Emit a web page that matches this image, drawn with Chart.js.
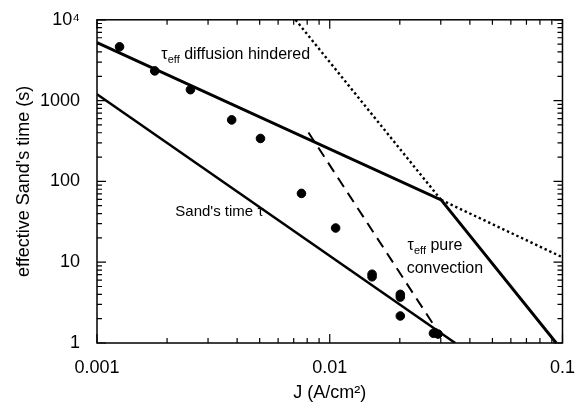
<!DOCTYPE html>
<html>
<head>
<meta charset="utf-8">
<script src="https://cdn.jsdelivr.net/npm/chart.js@4.4.1/dist/chart.umd.min.js"></script>
<style>
  html, body { margin: 0; padding: 0; background: #fff; }
  #wrap { width: 581px; height: 411px; }
</style>
</head>
<body>
<div id="wrap"><canvas id="sandChart"></canvas></div>
<script>
// measured effective Sand's times
const measJ = [0.00125, 0.00177, 0.00252, 0.00379, 0.00504, 0.00756, 0.0106, 0.0152, 0.0152, 0.0201, 0.0201, 0.0201, 0.0279, 0.0292];
const measT = [4630, 2330, 1365, 577, 340, 71, 26.5, 6.6, 7.1, 4.0, 3.7, 2.16, 1.32, 1.29];

// Sand's time tau
const sandJ = [0.001, 0.0346];
const sandT = [1200, 1];

// tau_eff: diffusion hindered, then pure convection
const effJ = [0.001, 0.0301, 0.094];
const effT = [5230, 59, 1];

// dotted continuations of both branches
const convExtJ = [0.00713, 0.0301];
const convExtT = [10000, 59];
const diffExtJ = [0.0301, 0.1];
const diffExtT = [59, 11.5];

// dashed guide line
const dashJ = [0.0081, 0.0296];
const dashT = [403, 1.3];

const xTickVals = [0.001, 0.01, 0.1];
const xTickLabels = ['0.001', '0.01', '0.1'];
const yTickVals = [1, 10, 100, 1000, 10000];
const yTickLabels = ['1', '10', '100', '1000', '10⁴'];

const FONT = '"Liberation Sans", Arial, Helvetica, sans-serif';

const toXY = (xs, ys) => xs.map((x, i) => ({ x, y: ys[i] }));

// decade majors plus 2..9 minors
const withMinors = (majors) => {
  const out = [];
  majors.forEach((m, i) => {
    out.push({ value: m, major: true });
    if (i < majors.length - 1) {
      for (let k = 2; k <= 9; k++) out.push({ value: m * k, major: false });
    }
  });
  return out;
};

const lineSet = (xs, ys, width, dash) => ({
  type: 'line',
  data: toXY(xs, ys),
  borderColor: '#000',
  borderWidth: width,
  borderDash: dash || [],
  pointRadius: 0,
  fill: false,
  tension: 0
});

const annotations = [
  { x: 0.00189, y: 3240, parts: [['τ', 16, 0], ['eff', 11, 4], [' diffusion hindered', 16, 0]] },
  { x: 0.00217, y: 37.8, parts: [["Sand's time τ", 15, 0]] },
  { x: 0.0216, y: 14.1, parts: [['τ', 16, 0], ['eff', 11, 4], [' pure', 16, 0]] },
  { x: 0.0214, y: 7.4, parts: [['convection', 16, 0]] }
];

// frame, inward ticks on all four sides, and the in-plot labels
const frameTicks = {
  id: 'frameTicks',
  afterDraw(chart) {
    const { ctx, chartArea: a, scales } = chart;
    ctx.save();
    ctx.setLineDash([]);
    ctx.strokeStyle = '#000';
    ctx.lineWidth = 1.5;
    ctx.strokeRect(a.left, a.top, a.right - a.left, a.bottom - a.top);
    ctx.lineWidth = 1.2;
    ctx.beginPath();
    withMinors(xTickVals).forEach(t => {
      const px = scales.x.getPixelForValue(t.value);
      const len = t.major ? 9 : 5;
      ctx.moveTo(px, a.bottom); ctx.lineTo(px, a.bottom - len);
      ctx.moveTo(px, a.top); ctx.lineTo(px, a.top + len);
    });
    withMinors(yTickVals).forEach(t => {
      const py = scales.y.getPixelForValue(t.value);
      const len = t.major ? 9 : 5;
      ctx.moveTo(a.left, py); ctx.lineTo(a.left + len, py);
      ctx.moveTo(a.right, py); ctx.lineTo(a.right - len, py);
    });
    ctx.stroke();

    ctx.fillStyle = '#000';
    ctx.textBaseline = 'alphabetic';
    annotations.forEach(an => {
      let px = scales.x.getPixelForValue(an.x);
      const py = scales.y.getPixelForValue(an.y);
      an.parts.forEach(([txt, size, dy]) => {
        ctx.font = size + 'px ' + FONT;
        ctx.fillText(txt, px, py + dy);
        px += ctx.measureText(txt).width;
      });
    });
    ctx.restore();
  }
};

new Chart(document.getElementById('sandChart'), {
  type: 'scatter',
  data: {
    datasets: [
      {
        type: 'scatter',
        data: toXY(measJ, measT),
        backgroundColor: '#000',
        borderColor: '#000',
        pointRadius: 4.3,
        pointHoverRadius: 4.3
      },
      lineSet(sandJ, sandT, 2.5),
      lineSet(effJ, effT, 3),
      lineSet(convExtJ, convExtT, 2.4, [2.4, 2.8]),
      lineSet(diffExtJ, diffExtT, 2.4, [2.4, 2.8]),
      lineSet(dashJ, dashT, 2, [11, 7])
    ]
  },
  options: {
    responsive: true,
    maintainAspectRatio: false,
    animation: false,
    events: [],
    layout: { padding: { left: 0, top: 16, right: 18, bottom: 0 } },
    plugins: { legend: { display: false }, tooltip: { enabled: false } },
    scales: {
      x: {
        type: 'logarithmic',
        min: 0.001,
        max: 0.1,
        afterBuildTicks: (s) => { s.ticks = withMinors(xTickVals); },
        afterFit: (s) => { s.height = 68; },
        grid: { display: false },
        border: { display: false },
        ticks: {
          autoSkip: false,
          maxRotation: 0,
          padding: 6,
          color: '#000',
          font: { family: FONT, size: 18 },
          callback: (v) => {
            const i = xTickVals.findIndex(t => Math.abs(t - v) / t < 1e-6);
            return i >= 0 ? xTickLabels[i] : '';
          }
        },
        title: {
          display: true,
          text: 'J (A/cm²)',
          color: '#000',
          font: { family: FONT, size: 18 },
          padding: { top: 0, bottom: 7 }
        }
      },
      y: {
        type: 'logarithmic',
        min: 1,
        max: 10000,
        afterBuildTicks: (s) => { s.ticks = withMinors(yTickVals); },
        afterFit: (s) => { s.width = 97; },
        grid: { display: false },
        border: { display: false },
        ticks: {
          autoSkip: false,
          padding: 9,
          color: '#000',
          font: { family: FONT, size: 18 },
          callback: (v) => {
            const i = yTickVals.findIndex(t => Math.abs(t - v) / t < 1e-6);
            return i >= 0 ? yTickLabels[i] : '';
          }
        },
        title: {
          display: true,
          text: "effective Sand's time (s)",
          color: '#000',
          font: { family: FONT, size: 18 },
          padding: { top: 13, bottom: 0 }
        }
      }
    }
  },
  plugins: [frameTicks]
});
</script>
</body>
</html>
